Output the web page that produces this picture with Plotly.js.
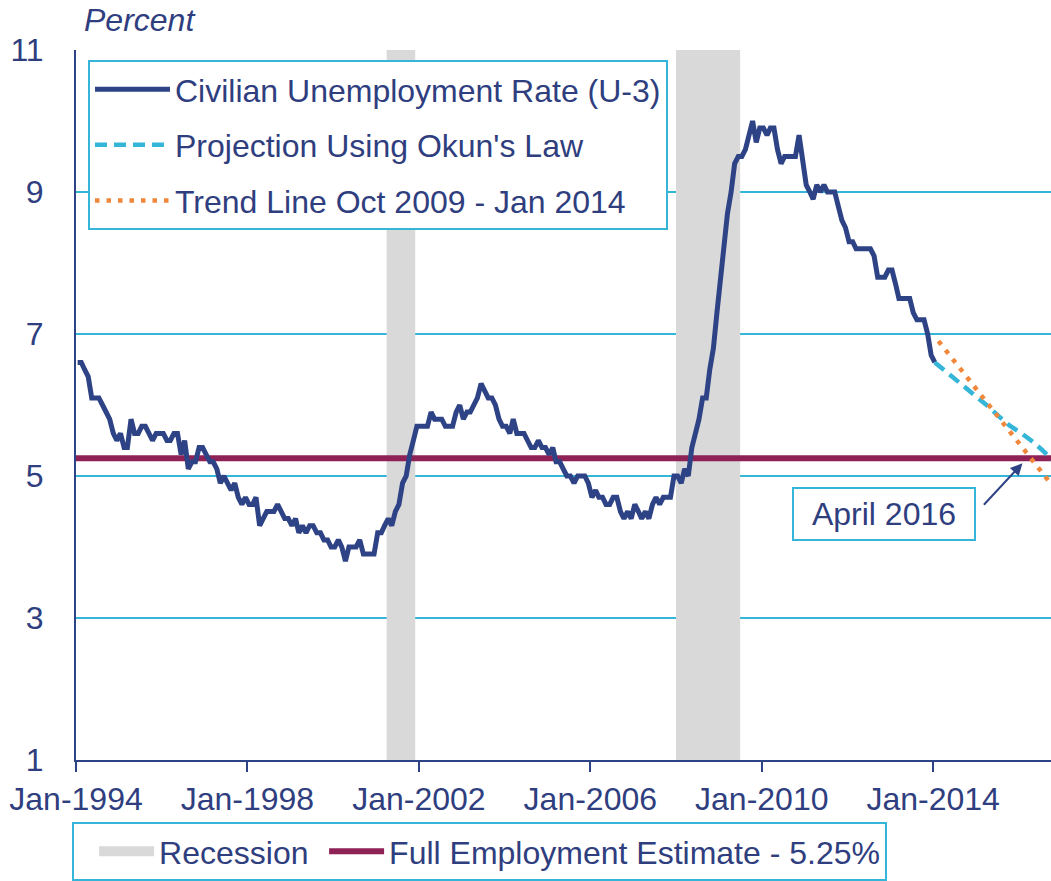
<!DOCTYPE html>
<html>
<head>
<meta charset="utf-8">
<script src="https://cdn.plot.ly/plotly-3.0.1.min.js"></script>
<style>html,body{margin:0;padding:0;background:#fff;}#chart{width:1051px;height:881px;}</style>
</head>
<body>
<div id="chart"></div>
<script>
// ---- Data ----
const startYear = 1994;
// Civilian unemployment rate (U-3), monthly, Jan-1994 .. Jan-2014
const unemploymentRate = [
  6.6,6.6,6.5,6.4,6.1,6.1,6.1,6.0,5.9,5.8,5.6,5.5, // 1994
  5.6,5.4,5.4,5.8,5.6,5.6,5.7,5.7,5.6,5.5,5.6,5.6, // 1995
  5.6,5.5,5.5,5.6,5.6,5.3,5.5,5.1,5.2,5.2,5.4,5.4, // 1996
  5.3,5.2,5.2,5.1,4.9,5.0,4.9,4.8,4.9,4.7,4.6,4.7, // 1997
  4.6,4.6,4.7,4.3,4.4,4.5,4.5,4.5,4.6,4.5,4.4,4.4, // 1998
  4.3,4.4,4.2,4.3,4.2,4.3,4.3,4.2,4.2,4.1,4.1,4.0, // 1999
  4.0,4.1,4.0,3.8,4.0,4.0,4.0,4.1,3.9,3.9,3.9,3.9, // 2000
  4.2,4.2,4.3,4.4,4.3,4.5,4.6,4.9,5.0,5.3,5.5,5.7, // 2001
  5.7,5.7,5.7,5.9,5.8,5.8,5.8,5.7,5.7,5.7,5.9,6.0, // 2002
  5.8,5.9,5.9,6.0,6.1,6.3,6.2,6.1,6.1,6.0,5.8,5.7, // 2003
  5.7,5.6,5.8,5.6,5.6,5.6,5.5,5.4,5.4,5.5,5.4,5.4, // 2004
  5.3,5.4,5.2,5.2,5.1,5.0,5.0,4.9,5.0,5.0,5.0,4.9, // 2005
  4.7,4.8,4.7,4.7,4.6,4.6,4.7,4.7,4.5,4.4,4.5,4.4, // 2006
  4.6,4.5,4.4,4.5,4.4,4.6,4.7,4.6,4.7,4.7,4.7,5.0, // 2007
  5.0,4.9,5.1,5.0,5.4,5.6,5.8,6.1,6.1,6.5,6.8,7.3, // 2008
  7.8,8.3,8.7,9.0,9.4,9.5,9.5,9.6,9.8,10.0,9.7,9.9, // 2009
  9.9,9.8,9.9,9.9,9.6,9.4,9.5,9.5,9.5,9.5,9.8,9.4, // 2010
  9.1,9.0,8.9,9.1,9.0,9.1,9.0,9.0,9.0,8.8,8.6,8.5, // 2011
  8.3,8.3,8.2,8.2,8.2,8.2,8.2,8.1,7.8,7.8,7.8,7.9, // 2012
  7.9,7.7,7.5,7.5,7.5,7.5,7.3,7.2,7.2,7.2,7.0,6.7, // 2013
  6.6                                              // 2014
];

const okunDates = ['2014-01-15','2014-04-15','2014-07-15','2014-10-15','2015-01-15','2015-04-15',
                   '2015-07-15','2015-10-15','2016-01-15','2016-04-15','2016-07-15','2016-10-15'];
const okunValues = [6.6,6.48,6.36,6.24,6.12,5.98,5.84,5.71,5.61,5.5,5.37,5.23];

const trendDates = ['2014-02-15','2016-10-15'];
const trendValues = [6.9,4.86];

const fullEmploymentDates = ['1994-01-01','2016-10-01'];
const fullEmploymentValues = [5.25,5.25];

const recessionStarts = ['2001-04-01','2008-01-01'];
const recessionEnds = ['2001-12-01','2009-07-01'];

const tickDates = ['1994-01-01','1998-01-01','2002-01-01','2006-01-01','2010-01-01','2014-01-01'];
const tickLabels = ['Jan-1994','Jan-1998','Jan-2002','Jan-2006','Jan-2010','Jan-2014'];
const yTicks = [1,3,5,7,9,11];

// ---- Build ----
const monthDates = unemploymentRate.map((_, i) => {
  const y = startYear + Math.floor(i / 12);
  const m = (i % 12) + 1;
  return y + '-' + String(m).padStart(2, '0') + '-15';
});

const NAVY = '#2E4385';
const TEXT = '#2F3E7E';
const CYAN = '#35B6D8';
const MAROON = '#8E2257';
const GRAY = '#D9D9D9';
const ORANGE = '#F0873A';
const FONT = 'Liberation Sans, Arial, sans-serif';
const FS = 32;

const traces = [
  {
    x: [null], y: [null], type: 'scatter', mode: 'lines',
    name: 'Recession', line: {color: GRAY, width: 16},
    legend: 'legend2', legendrank: 1, legendwidth: 160, hoverinfo: 'skip'
  },
  {
    x: fullEmploymentDates, y: fullEmploymentValues, type: 'scatter', mode: 'lines',
    name: 'Full Employment Estimate - 5.25%', line: {color: MAROON, width: 6},
    legend: 'legend2', legendrank: 2, hoverinfo: 'skip'
  },
  {
    x: monthDates, y: unemploymentRate, type: 'scatter', mode: 'lines',
    name: 'Civilian Unemployment Rate (U-3)', line: {color: NAVY, width: 5},
    legend: 'legend', legendgroup: 'a', legendrank: 1
  },
  {
    x: okunDates, y: okunValues, type: 'scatter', mode: 'lines',
    name: "Projection Using Okun's Law", line: {color: CYAN, width: 4.5, dash: '12px,7px'},
    legend: 'legend', legendgroup: 'b', legendrank: 2
  },
  {
    x: trendDates, y: trendValues, type: 'scatter', mode: 'lines',
    name: 'Trend Line Oct 2009 - Jan 2014', line: {color: ORANGE, width: 4.5, dash: '4.5px,7px'},
    legend: 'legend', legendgroup: 'c', legendrank: 3
  }
];

const shapes = recessionStarts.map((s, i) => ({
  type: 'rect', xref: 'x', yref: 'y', x0: s, x1: recessionEnds[i], y0: 1, y1: 11,
  fillcolor: GRAY, line: {width: 0}, layer: 'between'
}));

const layout = {
  width: 1051, height: 881,
  margin: {l: 76, r: 0, t: 50, b: 121},
  paper_bgcolor: '#ffffff', plot_bgcolor: '#ffffff',
  font: {family: FONT, size: FS, color: TEXT},
  showlegend: true,
  xaxis: {
    type: 'date', range: ['1994-01-01', '2016-10-01'],
    tickmode: 'array', tickvals: tickDates, ticktext: tickLabels,
    ticks: 'outside', ticklen: 10, tickwidth: 2, tickcolor: NAVY,
    showline: true, linecolor: NAVY, linewidth: 2,
    showgrid: false, zeroline: false, automargin: false,
    tickfont: {family: FONT, size: FS, color: TEXT}
  },
  yaxis: {
    range: [1, 11], tickmode: 'array', tickvals: yTicks,
    showgrid: true, gridcolor: CYAN, gridwidth: 2,
    showline: true, linecolor: NAVY, linewidth: 2, zeroline: false,
    ticks: '', ticklabelstandoff: 24, automargin: false,
    tickfont: {family: FONT, size: FS, color: TEXT}
  },
  legend: {
    x: 0.0123, y: 0.986, xanchor: 'left', yanchor: 'top',
    bgcolor: '#ffffff', bordercolor: CYAN, borderwidth: 2,
    font: {family: FONT, size: FS, color: TEXT},
    itemwidth: 75, traceorder: 'grouped', tracegroupgap: 11
  },
  legend2: {
    orientation: 'h', x: -0.004, y: -0.1702, xanchor: 'left', yanchor: 'bottom',
    bgcolor: '#ffffff', bordercolor: CYAN, borderwidth: 2,
    font: {family: FONT, size: FS, color: TEXT},
    title: {text: '\u2003', side: 'left', font: {family: FONT, size: 10, color: TEXT}},
    itemwidth: 55
  },
  shapes: shapes,
  annotations: [
    {
      text: 'Percent', xref: 'paper', yref: 'paper', x: 0.006, y: 1.042,
      xanchor: 'left', yanchor: 'middle', showarrow: false,
      font: {family: FONT, size: FS, color: TEXT, style: 'italic'}
    },
    {
      text: 'April 2016', xref: 'paper', yref: 'paper', x: 0.8287, y: 0.3465,
      xanchor: 'center', yanchor: 'middle', showarrow: false,
      bordercolor: CYAN, borderwidth: 2, borderpad: 6, width: 168, height: 38, bgcolor: '#ffffff',
      font: {family: FONT, size: FS, color: TEXT}
    },
    {
      text: '', xref: 'x', yref: 'y', x: '2016-02-01', y: 5.18,
      axref: 'pixel', ayref: 'pixel', ax: -40, ay: 43,
      showarrow: true, arrowhead: 2, arrowsize: 1.2, arrowwidth: 2, arrowcolor: NAVY
    }
  ]
};

Plotly.newPlot('chart', traces, layout, {displayModeBar: false, staticPlot: true});
</script>
</body>
</html>
